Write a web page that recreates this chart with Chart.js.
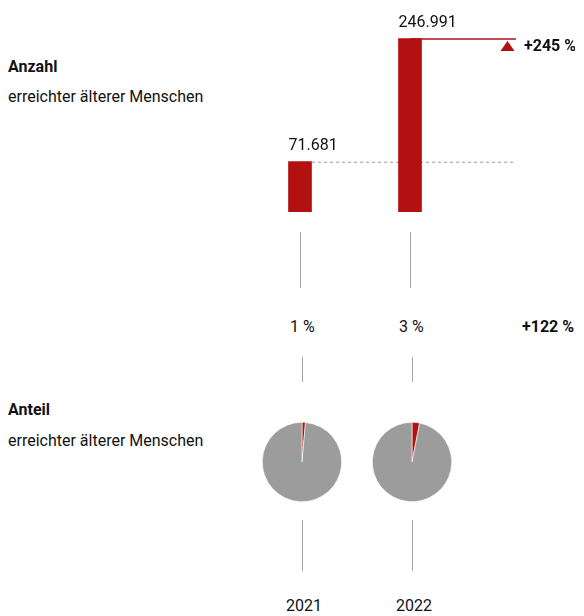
<!DOCTYPE html>
<html>
<head>
<meta charset="utf-8">
<script src="https://cdn.jsdelivr.net/npm/chart.js@4.4.0/dist/chart.umd.min.js"></script>
<style>
  body { margin: 0; background: #fff; font-family: Roboto, sans-serif; color: #111; }
  #page { position: relative; width: 584px; height: 616px; overflow: hidden; }
  .abs { position: absolute; }
  .txt { position: absolute; font-size: 16px; white-space: nowrap; line-height: 18px; }
  .b { font-weight: bold; }
  .vline { position: absolute; width: 1px; background: #a6a6a6; }
</style>
</head>
<body>
<div id="page">
  <div class="abs" style="left:245px;top:0;width:330px;height:212px;"><canvas id="bars"></canvas></div>
  <div class="abs" style="left:261px;top:421px;width:82px;height:82px;"><canvas id="pie1"></canvas></div>
  <div class="abs" style="left:371px;top:421px;width:82px;height:82px;"><canvas id="pie2"></canvas></div>
  <div id="labels"></div>
</div>
<script>
const years = ['2021', '2022'];
const reached = [71681, 246991];
const shareLabels = ['1 %', '3 %'];
const shares = [1.4, 3.1];
const countChange = '+245 %';
const shareChange = '+122 %';

const RED = '#b31012';
const GREY = '#9c9c9c';
const fmt = v => v.toLocaleString('de-DE');

const labelBox = document.getElementById('labels');
function addText(text, x, y, bold) {
  const d = document.createElement('div');
  d.className = 'txt' + (bold ? ' b' : '');
  d.textContent = text;
  d.style.left = x + 'px';
  d.style.top = y + 'px';
  labelBox.appendChild(d);
}
function addLine(x, y1, y2) {
  const d = document.createElement('div');
  d.className = 'vline';
  d.style.left = x + 'px';
  d.style.top = y1 + 'px';
  d.style.height = (y2 - y1) + 'px';
  labelBox.appendChild(d);
}

addText('Anzahl', 8, 58, true);
addText('erreichter älterer Menschen', 8, 88);
addText('Anteil', 8, 401, true);
addText('erreichter älterer Menschen', 8, 432);
addText(shareLabels[0], 290, 318);
addText(shareLabels[1], 399, 318);
addText(shareChange, 522, 318, true);
addText(years[0], 286, 597);
addText(years[1], 396, 597);
[300, 410].forEach(x => {
  addLine(x, 232, 288);
  addLine(x + 2, 357, 382);
  addLine(x + 2, 520, 571);
});

// Reference lines and labels drawn from the scale
const refLines = {
  id: 'refLines',
  beforeDatasetsDraw(chart) {
    const { ctx, scales: { x, y } } = chart;
    const endX = x.getPixelForValue(2) - 4;
    const y0 = y.getPixelForValue(reached[0]);
    ctx.save();
    ctx.strokeStyle = '#9a9a9a';
    ctx.lineWidth = 1;
    ctx.setLineDash([3, 3]);
    ctx.beginPath();
    ctx.moveTo(x.getPixelForValue(0), y0 + 0.5);
    ctx.lineTo(endX, y0 + 0.5);
    ctx.stroke();
    ctx.restore();
  },
  afterDatasetsDraw(chart) {
    const { ctx, scales: { x, y } } = chart;
    const meta = chart.getDatasetMeta(0);
    const endX = x.getPixelForValue(2) - 4;
    const y1 = y.getPixelForValue(reached[1]);
    ctx.save();
    ctx.strokeStyle = RED;
    ctx.lineWidth = 1.5;
    ctx.beginPath();
    ctx.moveTo(meta.data[1].x, y1 + 0.5);
    ctx.lineTo(endX, y1 + 0.5);
    ctx.stroke();
    // triangle
    ctx.fillStyle = RED;
    ctx.beginPath();
    ctx.moveTo(endX - 8.5, y1 + 2.5);
    ctx.lineTo(endX - 1.5, y1 + 12.5);
    ctx.lineTo(endX - 15.5, y1 + 12.5);
    ctx.closePath();
    ctx.fill();
    ctx.font = 'bold 16px Roboto';
    ctx.fillStyle = '#111';
    ctx.textBaseline = 'middle';
    ctx.fillText(countChange, endX + 8, y1 + 8);
    ctx.font = '16px Roboto';
    ctx.textBaseline = 'alphabetic';
    meta.data.forEach((bar, i) => {
      ctx.fillText(fmt(reached[i]), bar.x - bar.width / 2, bar.y - 12);
    });
    ctx.restore();
  }
};

new Chart(document.getElementById('bars'), {
  type: 'bar',
  data: {
    labels: [...years, ''],
    datasets: [{ data: reached, backgroundColor: RED, barThickness: 23 }]
  },
  options: {
    responsive: true,
    maintainAspectRatio: false,
    animation: false,
    layout: { padding: 0 },
    plugins: { legend: { display: false }, tooltip: { enabled: false } },
    scales: {
      x: { display: false, offset: true, min: 0, max: 2, type: 'category' },
      y: { display: false, min: 0, max: 302000 }
    }
  },
  plugins: [refLines]
});

function makePie(id, value) {
  new Chart(document.getElementById(id), {
    type: 'pie',
    data: {
      labels: ['erreicht', 'nicht erreicht'],
      datasets: [{
        data: [value, 100 - value],
        backgroundColor: [RED, GREY],
        borderColor: '#fff',
        borderWidth: 0.6
      }]
    },
    options: {
      responsive: true,
      maintainAspectRatio: false,
      animation: false,
      layout: { padding: 1 },
      plugins: { legend: { display: false }, tooltip: { enabled: false } }
    }
  });
}
makePie('pie1', shares[0]);
makePie('pie2', shares[1]);
</script>
</body>
</html>
